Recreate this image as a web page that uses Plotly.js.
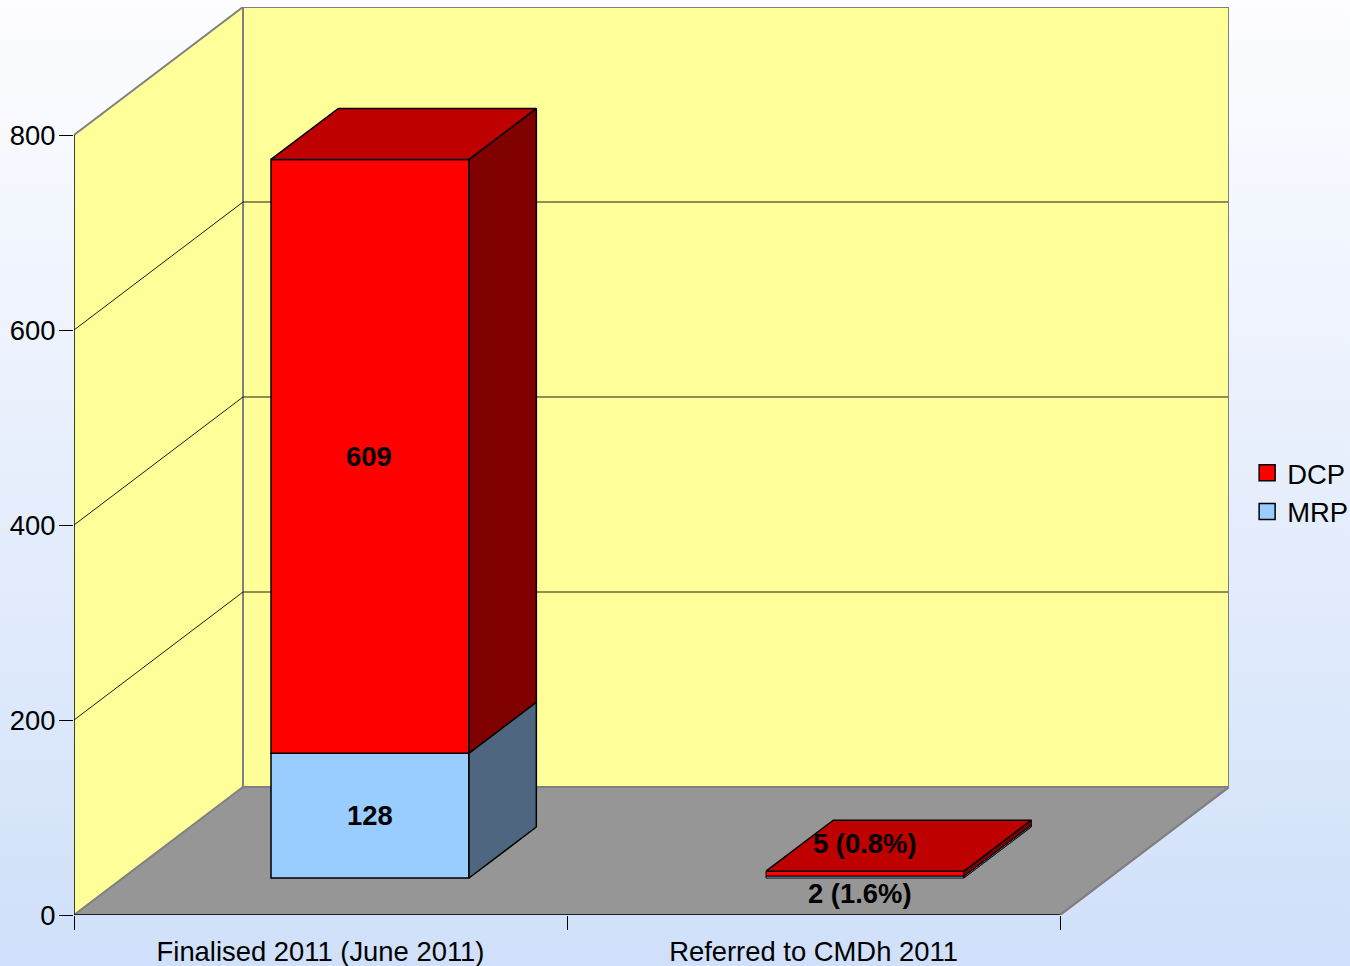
<!DOCTYPE html>
<html>
<head>
<meta charset="utf-8">
<script src="https://cdn.plot.ly/plotly-3.0.1.min.js"></script>
<style>
html,body{margin:0;padding:0;width:1350px;height:966px;overflow:hidden;background:linear-gradient(180deg,#fdfdff 0%,#d0e0fa 100%);}
#chart{width:1350px;height:966px;}
</style>
</head>
<body>
<div id="chart"></div>
<script>
var categories = ["Finalised 2011 (June 2011)", "Referred to CMDh 2011"];
var seriesNames = ["MRP", "DCP"];
var mrpValues = [128, 2];
var dcpValues = [609, 5];
var mrpLabels = ["128", "2 (1.6%)"];
var dcpLabels = ["609", "5 (0.8%)"];
var yTicks = [0, 200, 400, 600, 800];

// Geometry of the fake-3D box
var PX_X = 493, PX_Y = 0.975;             // pixels per category / per value unit
var DX = 169 / PX_X, DY = 128 / PX_Y;     // full depth of the box in data units
var D0 = 37 / 128, D1 = 88 / 128;         // bar front / back as a fraction of depth
var BARW = 198 / PX_X;
var BAR_STEP = 495 / PX_X, BAR_START = (370 - 74) / PX_X;
var YMAX = 800, NC = categories.length;
var RED = "#ff0000", REDTOP = "#bf0000", REDSIDE = "#800000";
var BLUE = "#99ccff", BLUESIDE = "#4f6680";
var TXT = "#000000", FF = "Liberation Sans, Arial, sans-serif", FS = 27.4;

function poly(pts) {
  return "M" + pts.map(function (p) { return p[0] + "," + p[1]; }).join("L") + "Z";
}
var shapes = [];
function addShape(path, fill, line, w) {
  shapes.push({type: "path", xref: "x", yref: "y", layer: "below", path: path,
    fillcolor: fill, line: {color: line, width: w}});
}
addShape(poly([[0,0],[0,YMAX],[DX,YMAX+DY],[DX,DY]]), "#ffff99", "rgba(0,0,0,0)", 0);
addShape(poly([[DX,DY],[DX,YMAX+DY],[NC+DX,YMAX+DY],[NC+DX,DY]]), "#ffff99", "#808080", 2);
addShape(poly([[0,0],[NC,0],[NC+DX,DY],[DX,DY]]), "#969696", "#808080", 2);
yTicks.forEach(function (t) {
  if (t === 0 || t === YMAX) return;
  shapes.push({type: "path", xref: "x", yref: "y", layer: "below",
    path: "M0," + t + "L" + DX + "," + (t + DY) + "L" + (NC + DX) + "," + (t + DY),
    line: {color: "#1c1c10", width: 1}});
});

var traces = [];
function outline(xs, ys, color, w) {
  traces.push({type: "scatter", mode: "lines", x: xs, y: ys, cliponaxis: false,
    showlegend: false, hoverinfo: "skip", line: {color: color, width: w}});
}
outline([0, DX, NC + DX, NC + DX, NC], [YMAX, YMAX + DY, YMAX + DY, DY, 0], "#808080", 2);
outline([0, 0], [YMAX, 0], "#000000", 1.5);
outline([0, NC], [0, 0], "#000000", 1.5);

function face(pts, fill, w) {
  traces.push({type: "scatter", mode: "lines", fill: "toself", fillcolor: fill,
    x: pts.map(function (p) { return p[0]; }), y: pts.map(function (p) { return p[1]; }),
    showlegend: false, hoverinfo: "skip", line: {color: "#000000", width: w}});
}
var frontX = categories.map(function (_, i) { return BAR_START + i * BAR_STEP; });
var frontBase = D0 * DY;
var edgeW = [1.5, 1];
traces.push({type: "bar", x: frontX, y: mrpValues, base: frontBase, width: BARW,
  name: seriesNames[0], showlegend: false, marker: {color: BLUE, line: {color: "#000", width: edgeW}}});
traces.push({type: "bar", x: frontX, y: dcpValues, base: mrpValues.map(function (v) { return frontBase + v; }),
  width: BARW, name: seriesNames[1], showlegend: false, marker: {color: RED, line: {color: "#000", width: edgeW}}});

var annotations = [];
categories.forEach(function (_, i) {
  var xl = frontX[i] - BARW / 2, xr = frontX[i] + BARW / 2;
  var ddx = (D1 - D0) * DX, ddy = (D1 - D0) * DY;
  var y0 = frontBase, y1 = y0 + mrpValues[i], y2 = y1 + dcpValues[i];
  face([[xr,y0],[xr+ddx,y0+ddy],[xr+ddx,y1+ddy],[xr,y1],[xr,y0]], BLUESIDE, edgeW[i]);
  face([[xr,y1],[xr+ddx,y1+ddy],[xr+ddx,y2+ddy],[xr,y2],[xr,y1]], REDSIDE, edgeW[i]);
  face([[xl,y2],[xr,y2],[xr+ddx,y2+ddy],[xl+ddx,y2+ddy],[xl,y2]], REDTOP, 1.5);
  var small = i === 1;
  annotations.push({x: frontX[i], y: (y0 + y1) / 2, xref: "x", yref: "y", text: "<b>" + mrpLabels[i] + "</b>",
    showarrow: false, xshift: small ? -5 : -0.5, yshift: small ? -16.5 : 0, font: {family: FF, size: FS, color: TXT}});
  annotations.push({x: frontX[i], y: (y1 + y2) / 2, xref: "x", yref: "y", text: "<b>" + dcpLabels[i] + "</b>",
    showarrow: false, xshift: small ? 0 : -1, yshift: small ? 30 : 0, font: {family: FF, size: FS, color: TXT}});
});

// Legend entries
function legendEntry(name, color) {
  traces.push({type: "scatter", mode: "markers", x: [null], y: [null], name: name, legendgroup: name,
    marker: {symbol: "square", size: 16, color: color, line: {color: "#000000", width: 1.5}}});
}
legendEntry("DCP", RED);
legendEntry("MRP", BLUE);

// Category labels sit on a second axis, ticks on the first
traces.push({type: "scatter", x: [null], y: [null], xaxis: "x2", showlegend: false, hoverinfo: "skip"});

var xRange = [0, NC + DX], yRange = [0, YMAX + DY];
var layout = {
  width: 1350, height: 966,
  margin: {l: 74, r: 121, t: 7, b: 51, autoexpand: false},
  paper_bgcolor: "rgba(0,0,0,0)", plot_bgcolor: "rgba(0,0,0,0)",
  font: {family: FF, size: FS, color: TXT},
  barmode: "overlay",
  hovermode: false,
  xaxis: {range: xRange, showgrid: false, zeroline: false, showline: false, tickmode: "array",
    tickvals: categories.map(function (_, i) { return i; }).concat([NC]),
    ticktext: categories.map(function () { return ""; }).concat([""]),
    ticks: "outside", ticklen: 14, tickcolor: "#000", tickwidth: 1},
  xaxis2: {range: xRange, overlaying: "x", anchor: "y", side: "bottom", showgrid: false, zeroline: false,
    showline: false, tickmode: "array",
    tickvals: categories.map(function (_, i) { return i + 0.5; }), ticktext: categories,
    ticks: "outside", ticklen: 12.5, tickcolor: "rgba(0,0,0,0)", tickfont: {family: FF, size: FS, color: TXT}},
  yaxis: {range: yRange, showgrid: false, zeroline: false, showline: false, tickmode: "array",
    tickvals: yTicks, ticktext: yTicks.map(String), ticks: "outside", ticklen: 14, tickcolor: "#000", tickwidth: 1,
    ticklabelstandoff: -2, tickfont: {family: FF, size: FS, color: TXT}},
  shapes: shapes,
  annotations: annotations,
  legend: {x: 1.0157, xref: "paper", xanchor: "left", y: 0.4653, yanchor: "middle", bgcolor: "rgba(0,0,0,0)",
    borderwidth: 0, tracegroupgap: 2, itemwidth: 30, font: {family: FF, size: FS, color: TXT},
    itemclick: false, itemdoubleclick: false, traceorder: "normal"},
  showlegend: true
};
Plotly.newPlot("chart", traces, layout, {displayModeBar: false, staticPlot: true});
</script>
</body>
</html>
